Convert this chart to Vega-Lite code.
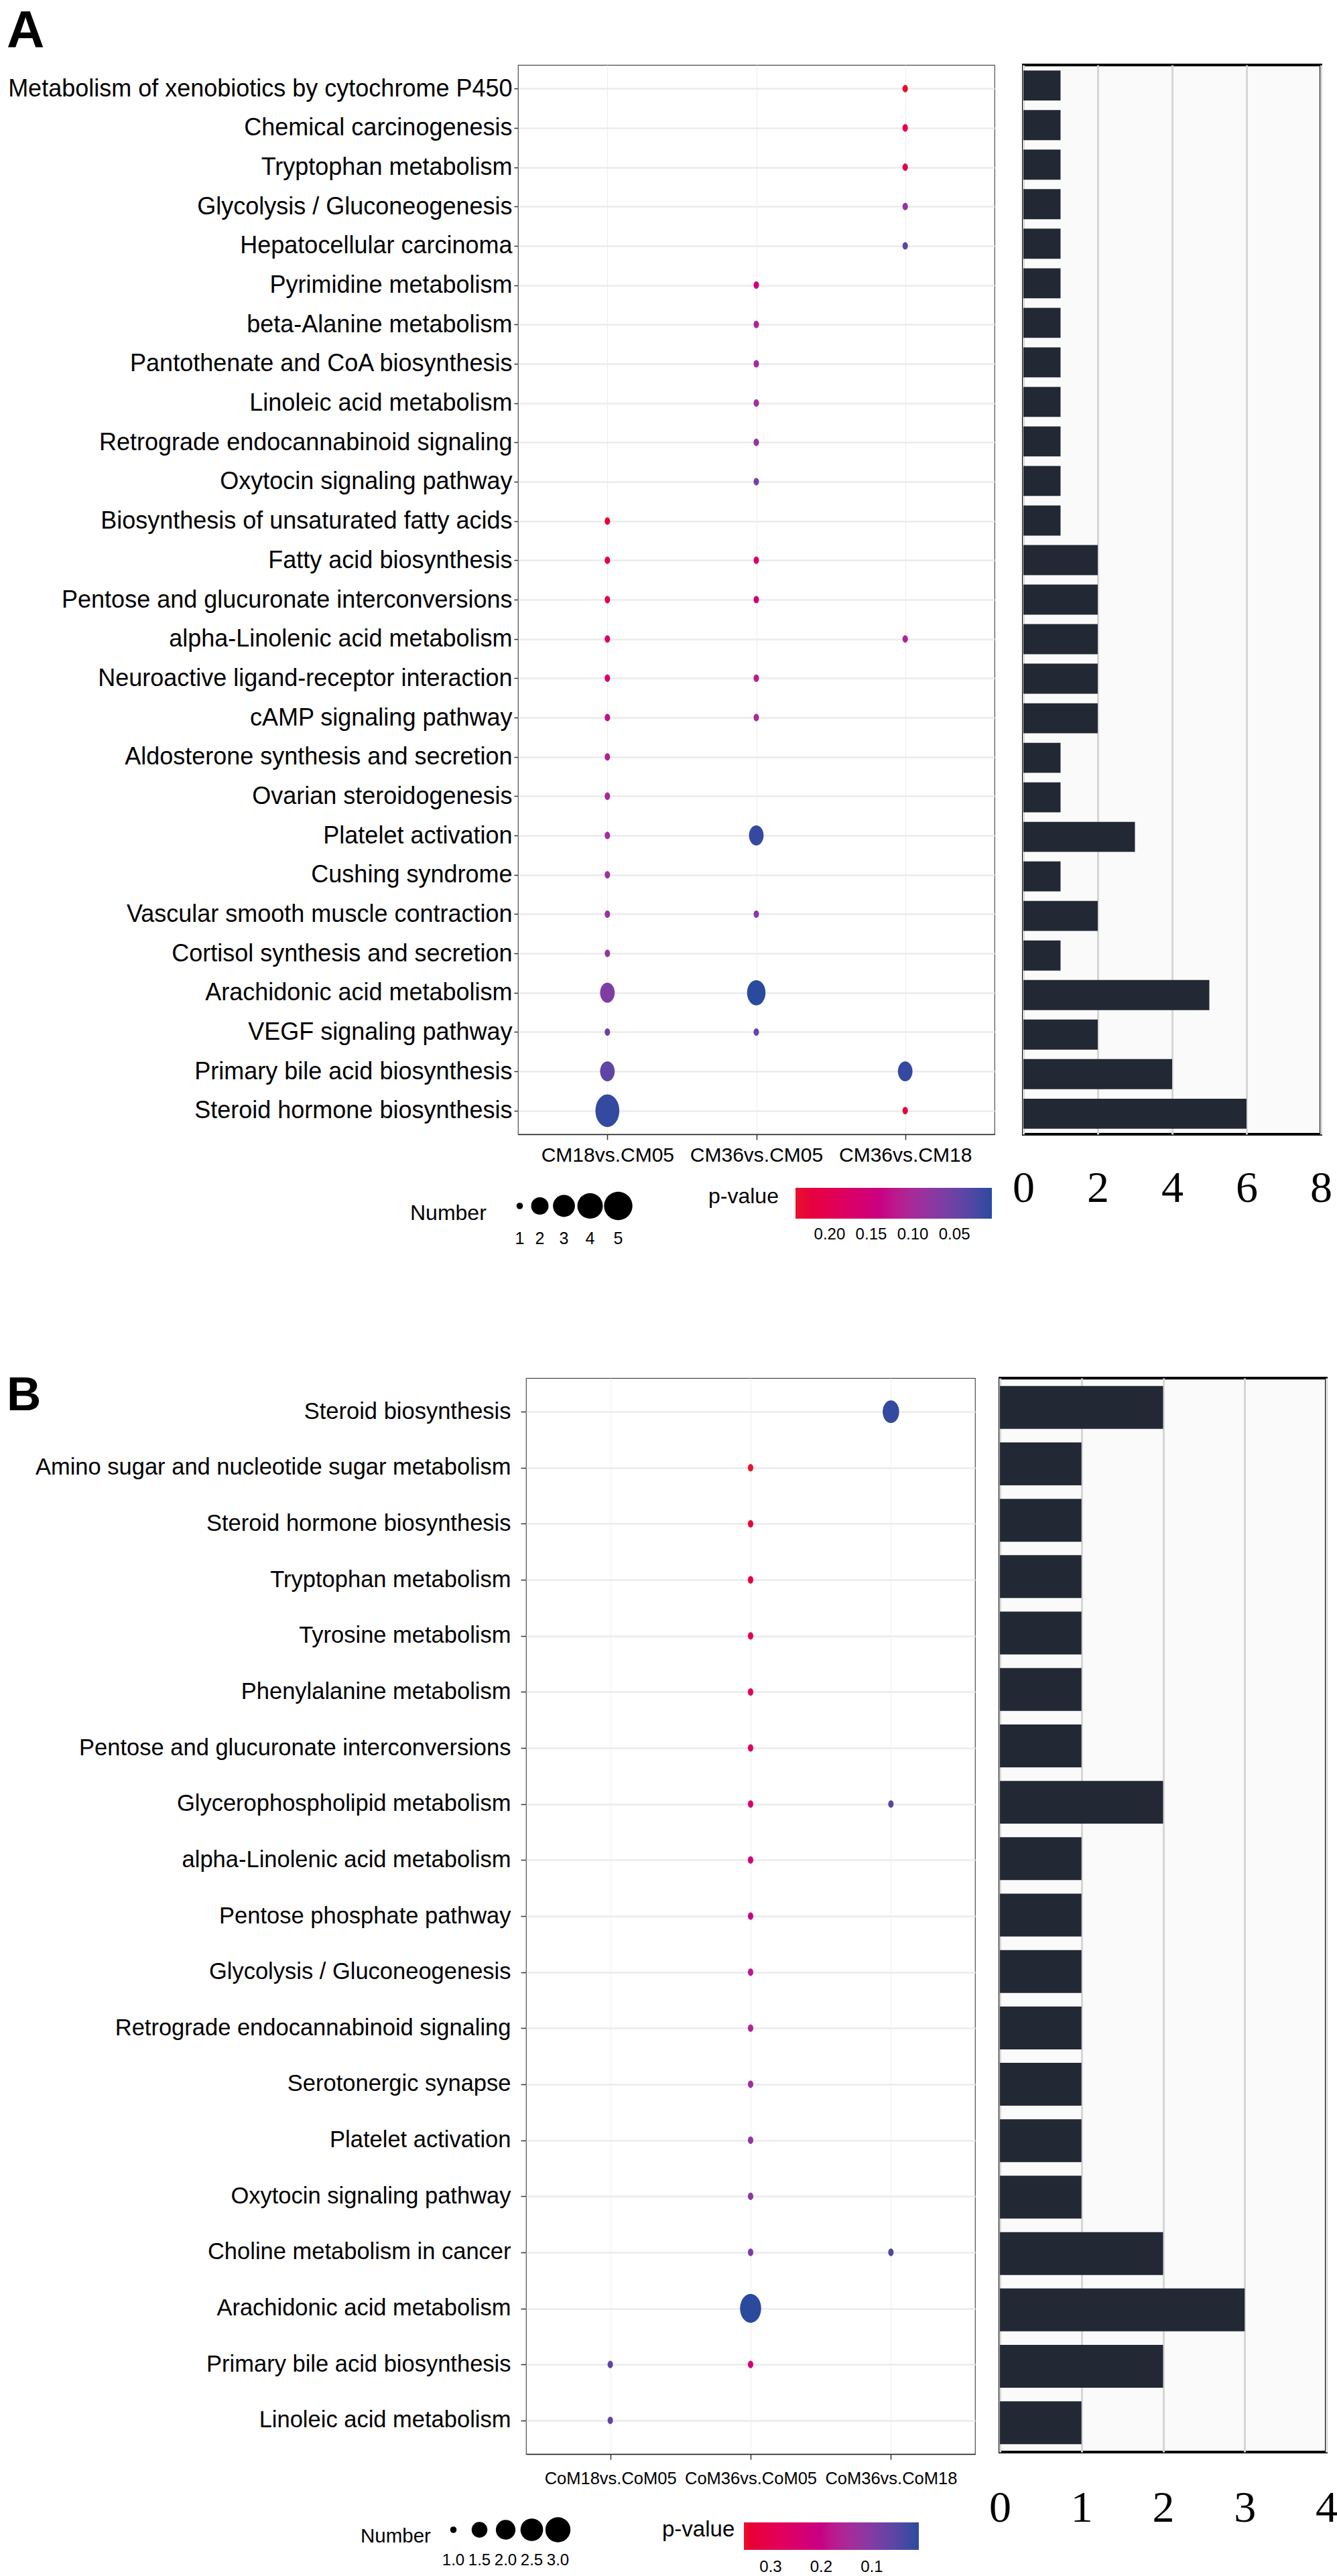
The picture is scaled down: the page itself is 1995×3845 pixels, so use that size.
{
  "$schema": "https://vega.github.io/schema/vega-lite/v6.json",
  "background": "white",
  "padding": {"left": 0, "top": 9, "right": 0, "bottom": 0},
  "config": {
    "view": {"stroke": null},
    "font": "Liberation Sans",
    "axis": {"labelColor": "black", "titleColor": "black"},
    "legend": {"padding": 0, "labelColor": "black", "titleColor": "black"},
    "title": {"color": "black"}
  },
  "datasets": {
    "dotsA": [
      {"pathway": "Metabolism of xenobiotics by cytochrome P450", "comparison": "CM36vs.CM18", "number": 1, "pvalue": 0.238},
      {"pathway": "Chemical carcinogenesis", "comparison": "CM36vs.CM18", "number": 1, "pvalue": 0.215},
      {"pathway": "Tryptophan metabolism", "comparison": "CM36vs.CM18", "number": 1, "pvalue": 0.195},
      {"pathway": "Glycolysis / Gluconeogenesis", "comparison": "CM36vs.CM18", "number": 1, "pvalue": 0.085},
      {"pathway": "Hepatocellular carcinoma", "comparison": "CM36vs.CM18", "number": 1, "pvalue": 0.04},
      {"pathway": "alpha-Linolenic acid metabolism", "comparison": "CM36vs.CM18", "number": 1, "pvalue": 0.11},
      {"pathway": "Primary bile acid biosynthesis", "comparison": "CM36vs.CM18", "number": 2, "pvalue": 0.012},
      {"pathway": "Steroid hormone biosynthesis", "comparison": "CM36vs.CM18", "number": 1, "pvalue": 0.225},
      {"pathway": "Pyrimidine metabolism", "comparison": "CM36vs.CM05", "number": 1, "pvalue": 0.15},
      {"pathway": "beta-Alanine metabolism", "comparison": "CM36vs.CM05", "number": 1, "pvalue": 0.11},
      {"pathway": "Pantothenate and CoA biosynthesis", "comparison": "CM36vs.CM05", "number": 1, "pvalue": 0.1},
      {"pathway": "Linoleic acid metabolism", "comparison": "CM36vs.CM05", "number": 1, "pvalue": 0.095},
      {"pathway": "Retrograde endocannabinoid signaling", "comparison": "CM36vs.CM05", "number": 1, "pvalue": 0.085},
      {"pathway": "Oxytocin signaling pathway", "comparison": "CM36vs.CM05", "number": 1, "pvalue": 0.06},
      {"pathway": "Fatty acid biosynthesis", "comparison": "CM36vs.CM05", "number": 1, "pvalue": 0.155},
      {"pathway": "Pentose and glucuronate interconversions", "comparison": "CM36vs.CM05", "number": 1, "pvalue": 0.15},
      {"pathway": "Neuroactive ligand-receptor interaction", "comparison": "CM36vs.CM05", "number": 1, "pvalue": 0.12},
      {"pathway": "cAMP signaling pathway", "comparison": "CM36vs.CM05", "number": 1, "pvalue": 0.1},
      {"pathway": "Platelet activation", "comparison": "CM36vs.CM05", "number": 2, "pvalue": 0.012},
      {"pathway": "Vascular smooth muscle contraction", "comparison": "CM36vs.CM05", "number": 1, "pvalue": 0.07},
      {"pathway": "Arachidonic acid metabolism", "comparison": "CM36vs.CM05", "number": 3, "pvalue": 0.005},
      {"pathway": "VEGF signaling pathway", "comparison": "CM36vs.CM05", "number": 1, "pvalue": 0.05},
      {"pathway": "Biosynthesis of unsaturated fatty acids", "comparison": "CM18vs.CM05", "number": 1, "pvalue": 0.235},
      {"pathway": "Fatty acid biosynthesis", "comparison": "CM18vs.CM05", "number": 1, "pvalue": 0.22},
      {"pathway": "Pentose and glucuronate interconversions", "comparison": "CM18vs.CM05", "number": 1, "pvalue": 0.205},
      {"pathway": "alpha-Linolenic acid metabolism", "comparison": "CM18vs.CM05", "number": 1, "pvalue": 0.178},
      {"pathway": "Neuroactive ligand-receptor interaction", "comparison": "CM18vs.CM05", "number": 1, "pvalue": 0.165},
      {"pathway": "cAMP signaling pathway", "comparison": "CM18vs.CM05", "number": 1, "pvalue": 0.128},
      {"pathway": "Aldosterone synthesis and secretion", "comparison": "CM18vs.CM05", "number": 1, "pvalue": 0.115},
      {"pathway": "Ovarian steroidogenesis", "comparison": "CM18vs.CM05", "number": 1, "pvalue": 0.105},
      {"pathway": "Platelet activation", "comparison": "CM18vs.CM05", "number": 1, "pvalue": 0.095},
      {"pathway": "Cushing syndrome", "comparison": "CM18vs.CM05", "number": 1, "pvalue": 0.09},
      {"pathway": "Vascular smooth muscle contraction", "comparison": "CM18vs.CM05", "number": 1, "pvalue": 0.085},
      {"pathway": "Cortisol synthesis and secretion", "comparison": "CM18vs.CM05", "number": 1, "pvalue": 0.08},
      {"pathway": "Arachidonic acid metabolism", "comparison": "CM18vs.CM05", "number": 2, "pvalue": 0.065},
      {"pathway": "VEGF signaling pathway", "comparison": "CM18vs.CM05", "number": 1, "pvalue": 0.05},
      {"pathway": "Primary bile acid biosynthesis", "comparison": "CM18vs.CM05", "number": 2, "pvalue": 0.04},
      {"pathway": "Steroid hormone biosynthesis", "comparison": "CM18vs.CM05", "number": 5, "pvalue": 0.01}
    ],
    "dotsB": [
      {"pathway": "Steroid biosynthesis", "comparison": "CoM36vs.CoM18", "number": 2, "pvalue": 0.015},
      {"pathway": "Glycerophospholipid metabolism", "comparison": "CoM36vs.CoM18", "number": 1, "pvalue": 0.05},
      {"pathway": "Choline metabolism in cancer", "comparison": "CoM36vs.CoM18", "number": 1, "pvalue": 0.04},
      {"pathway": "Amino sugar and nucleotide sugar metabolism", "comparison": "CoM36vs.CoM05", "number": 1, "pvalue": 0.353},
      {"pathway": "Steroid hormone biosynthesis", "comparison": "CoM36vs.CoM05", "number": 1, "pvalue": 0.345},
      {"pathway": "Tryptophan metabolism", "comparison": "CoM36vs.CoM05", "number": 1, "pvalue": 0.325},
      {"pathway": "Tyrosine metabolism", "comparison": "CoM36vs.CoM05", "number": 1, "pvalue": 0.31},
      {"pathway": "Phenylalanine metabolism", "comparison": "CoM36vs.CoM05", "number": 1, "pvalue": 0.28},
      {"pathway": "Pentose and glucuronate interconversions", "comparison": "CoM36vs.CoM05", "number": 1, "pvalue": 0.265},
      {"pathway": "Glycerophospholipid metabolism", "comparison": "CoM36vs.CoM05", "number": 1, "pvalue": 0.245},
      {"pathway": "alpha-Linolenic acid metabolism", "comparison": "CoM36vs.CoM05", "number": 1, "pvalue": 0.225},
      {"pathway": "Pentose phosphate pathway", "comparison": "CoM36vs.CoM05", "number": 1, "pvalue": 0.2},
      {"pathway": "Glycolysis / Gluconeogenesis", "comparison": "CoM36vs.CoM05", "number": 1, "pvalue": 0.18},
      {"pathway": "Retrograde endocannabinoid signaling", "comparison": "CoM36vs.CoM05", "number": 1, "pvalue": 0.16},
      {"pathway": "Serotonergic synapse", "comparison": "CoM36vs.CoM05", "number": 1, "pvalue": 0.14},
      {"pathway": "Platelet activation", "comparison": "CoM36vs.CoM05", "number": 1, "pvalue": 0.12},
      {"pathway": "Oxytocin signaling pathway", "comparison": "CoM36vs.CoM05", "number": 1, "pvalue": 0.105},
      {"pathway": "Choline metabolism in cancer", "comparison": "CoM36vs.CoM05", "number": 1, "pvalue": 0.09},
      {"pathway": "Arachidonic acid metabolism", "comparison": "CoM36vs.CoM05", "number": 3, "pvalue": 0.007},
      {"pathway": "Primary bile acid biosynthesis", "comparison": "CoM36vs.CoM05", "number": 1, "pvalue": 0.23},
      {"pathway": "Primary bile acid biosynthesis", "comparison": "CoM18vs.CoM05", "number": 1, "pvalue": 0.055},
      {"pathway": "Linoleic acid metabolism", "comparison": "CoM18vs.CoM05", "number": 1, "pvalue": 0.06}
    ]
  },
  "resolve": {
    "scale": {"x": "independent", "y": "independent", "color": "independent", "size": "independent"},
    "legend": {"color": "independent", "size": "independent"}
  },
  "spacing": 185,
  "vconcat": [
    {
      "title": {"text": "A", "anchor": "start", "frame": "bounds", "fontSize": 78, "fontWeight": "bold", "font": "Liberation Sans", "dx": 10, "offset": 8},
      "spacing": 23,
      "resolve": {
        "scale": {"x": "independent", "y": "independent", "color": "independent", "size": "independent"},
        "legend": {"color": "independent", "size": "independent"}
      },
      "hconcat": [
        {
          "spacing": 0,
          "resolve": {
            "scale": {"x": "independent", "y": "independent", "color": "independent", "size": "independent"},
            "legend": {"color": "independent", "size": "independent"}
          },
          "hconcat": [
            {"width": 1, "height": 1, "data": {"values": []}, "mark": "point"},
            {
              "width": 711,
              "height": 1596,
              "data": {"name": "dotsA"},
              "view": {"stroke": "#4d4d4d", "strokeWidth": 1.2, "fill": "white"},
              "mark": {"type": "point", "filled": true, "opacity": 1, "strokeWidth": 0, "shape": "M -0.84 0 A 0.84 1.15 0 1 0 0.84 0 A 0.84 1.15 0 1 0 -0.84 0 Z"},
              "encoding": {
                "x": {
                  "field": "comparison", "type": "nominal",
                  "scale": {"type": "point", "domain": ["CM18vs.CM05", "CM36vs.CM05", "CM36vs.CM18"], "padding": 0.6},
                  "axis": {"title": null, "labelAngle": 0, "labelFontSize": 30, "labelPadding": 8, "tickSize": 8, "tickColor": "#333333", "tickWidth": 1.5, "domainColor": "#222222", "domainWidth": 1.5, "grid": true, "gridColor": "#EEEEEE", "gridWidth": 1.2, "labelOverlap": false, "labelFlush": false, "labelLimit": 400}
                },
                "y": {
                  "field": "pathway", "type": "nominal",
                  "scale": {"type": "point", "padding": 0.6, "domain": ["Metabolism of xenobiotics by cytochrome P450", "Chemical carcinogenesis", "Tryptophan metabolism", "Glycolysis / Gluconeogenesis", "Hepatocellular carcinoma", "Pyrimidine metabolism", "beta-Alanine metabolism", "Pantothenate and CoA biosynthesis", "Linoleic acid metabolism", "Retrograde endocannabinoid signaling", "Oxytocin signaling pathway", "Biosynthesis of unsaturated fatty acids", "Fatty acid biosynthesis", "Pentose and glucuronate interconversions", "alpha-Linolenic acid metabolism", "Neuroactive ligand-receptor interaction", "cAMP signaling pathway", "Aldosterone synthesis and secretion", "Ovarian steroidogenesis", "Platelet activation", "Cushing syndrome", "Vascular smooth muscle contraction", "Cortisol synthesis and secretion", "Arachidonic acid metabolism", "VEGF signaling pathway", "Primary bile acid biosynthesis", "Steroid hormone biosynthesis"]},
                  "axis": {"title": null, "labelFontSize": 36, "labelLimit": 1000, "labelPadding": 3, "tickSize": 6, "tickColor": "#333333", "tickWidth": 1.5, "domain": false, "grid": true, "gridColor": "#EBEBEB", "gridWidth": 2.5, "labelOverlap": false, "minExtent": 771, "maxExtent": 771}
                },
                "size": {
                  "field": "number", "type": "quantitative",
                  "scale": {"domain": [1, 2, 3, 4, 5], "range": [92, 676, 1076, 1444, 1800]},
                  "legend": {
                    "title": "Number", "orient": "none", "legendX": -161, "legendY": 1683, "direction": "horizontal",
                    "titleOrient": "left", "titleFontSize": 32, "titleFontWeight": "normal", "titleAnchor": "middle", "titleBaseline": "alphabetic", "titlePadding": 27,
                    "values": [1, 2, 3, 4, 5], "symbolType": "circle", "symbolFillColor": "black", "symbolStrokeWidth": 0, "symbolOpacity": 1,
                    "labelFontSize": 25, "columnPadding": 0, "labelOffset": 0, "symbolOffset": 0,
                    "encoding": {
                      "entries": {"width": {"value": 45}, "height": {"value": 82}, "fill": {"value": "rgba(255,255,255,0)"}},
                      "symbols": {"x": {"value": 22.5}, "y": {"value": 20}},
                      "labels": {"x": {"value": 22.5}, "y": {"value": 69}, "align": {"value": "center"}, "baseline": {"value": "middle"}}
                    }
                  }
                },
                "color": {
                  "field": "pvalue", "type": "quantitative",
                  "scale": {"domain": [0.241, 0.123, 0.005], "range": ["#E8132B", "#BD178C", "#2A4A9E"]},
                  "legend": {
                    "title": "p-value", "orient": "none", "legendX": 284, "legendY": 1676, "direction": "horizontal",
                    "titleOrient": "left", "titleFontSize": 32, "titleFontWeight": "normal", "titleAnchor": "middle", "titleBaseline": "alphabetic", "titlePadding": 25,
                    "gradientLength": 293, "gradientThickness": 46, "gradientStrokeWidth": 0,
                    "values": [0.2, 0.15, 0.1, 0.05], "format": ".2f", "labelFontSize": 24, "labelOffset": 12, "labelOverlap": false
                  }
                }
              }
            }
          ]
        },
        {
          "width": 444,
          "height": 1596,
          "data": {"name": "dotsA"},
          "view": {"stroke": "black", "strokeWidth": 4, "fill": "#FAFAFA"},
          "mark": {"type": "bar", "color": "#222834"},
          "encoding": {
            "y": {
              "field": "pathway", "type": "nominal",
              "scale": {"type": "band", "paddingInner": 0.24, "paddingOuter": 0.14, "domain": ["Metabolism of xenobiotics by cytochrome P450", "Chemical carcinogenesis", "Tryptophan metabolism", "Glycolysis / Gluconeogenesis", "Hepatocellular carcinoma", "Pyrimidine metabolism", "beta-Alanine metabolism", "Pantothenate and CoA biosynthesis", "Linoleic acid metabolism", "Retrograde endocannabinoid signaling", "Oxytocin signaling pathway", "Biosynthesis of unsaturated fatty acids", "Fatty acid biosynthesis", "Pentose and glucuronate interconversions", "alpha-Linolenic acid metabolism", "Neuroactive ligand-receptor interaction", "cAMP signaling pathway", "Aldosterone synthesis and secretion", "Ovarian steroidogenesis", "Platelet activation", "Cushing syndrome", "Vascular smooth muscle contraction", "Cortisol synthesis and secretion", "Arachidonic acid metabolism", "VEGF signaling pathway", "Primary bile acid biosynthesis", "Steroid hormone biosynthesis"]},
              "axis": null
            },
            "x": {
              "aggregate": "sum", "field": "number", "type": "quantitative",
              "scale": {"domain": [0, 8], "nice": false},
              "axis": {"title": null, "values": [0, 2, 4, 6, 8], "grid": true, "gridColor": "#D6D6D6", "gridWidth": 3, "domain": false, "ticks": false, "tickSize": 0, "labelFont": "Liberation Serif", "labelFontSize": 66, "labelPadding": 48, "labelFlush": false, "labelOverlap": false}
            }
          }
        }
      ]
    },
    {
      "title": {"text": "B", "anchor": "start", "frame": "bounds", "fontSize": 71, "fontWeight": "bold", "font": "Liberation Sans", "dx": 10, "offset": -65},
      "spacing": 17,
      "resolve": {
        "scale": {"x": "independent", "y": "independent", "color": "independent", "size": "independent"},
        "legend": {"color": "independent", "size": "independent"}
      },
      "hconcat": [
        {
          "spacing": 0,
          "resolve": {
            "scale": {"x": "independent", "y": "independent", "color": "independent", "size": "independent"},
            "legend": {"color": "independent", "size": "independent"}
          },
          "hconcat": [
            {"width": 1, "height": 1, "data": {"values": []}, "mark": "point"},
            {
              "width": 670,
              "height": 1606,
              "data": {"name": "dotsB"},
              "view": {"stroke": "#4d4d4d", "strokeWidth": 1.2, "fill": "white"},
              "mark": {"type": "point", "filled": true, "opacity": 1, "strokeWidth": 0, "shape": "M -0.84 0 A 0.84 1.15 0 1 0 0.84 0 A 0.84 1.15 0 1 0 -0.84 0 Z"},
              "encoding": {
                "x": {
                  "field": "comparison", "type": "nominal",
                  "scale": {"type": "point", "domain": ["CoM18vs.CoM05", "CoM36vs.CoM05", "CoM36vs.CoM18"], "padding": 0.6},
                  "axis": {"title": null, "labelAngle": 0, "labelFontSize": 25.5, "labelPadding": 16, "tickSize": 8, "tickColor": "#333333", "tickWidth": 1.5, "domainColor": "#222222", "domainWidth": 1.5, "grid": true, "gridColor": "#EEEEEE", "gridWidth": 1.2, "labelOverlap": false, "labelFlush": false, "labelLimit": 400}
                },
                "y": {
                  "field": "pathway", "type": "nominal",
                  "scale": {"type": "point", "padding": 0.6, "domain": ["Steroid biosynthesis", "Amino sugar and nucleotide sugar metabolism", "Steroid hormone biosynthesis", "Tryptophan metabolism", "Tyrosine metabolism", "Phenylalanine metabolism", "Pentose and glucuronate interconversions", "Glycerophospholipid metabolism", "alpha-Linolenic acid metabolism", "Pentose phosphate pathway", "Glycolysis / Gluconeogenesis", "Retrograde endocannabinoid signaling", "Serotonergic synapse", "Platelet activation", "Oxytocin signaling pathway", "Choline metabolism in cancer", "Arachidonic acid metabolism", "Primary bile acid biosynthesis", "Linoleic acid metabolism"]},
                  "axis": {"title": null, "labelFontSize": 34.5, "labelLimit": 1000, "labelPadding": 15, "tickSize": 8, "tickColor": "#333333", "tickWidth": 1.5, "domain": false, "grid": true, "gridColor": "#EBEBEB", "gridWidth": 2.5, "labelOverlap": false, "minExtent": 783, "maxExtent": 783}
                },
                "size": {
                  "field": "number", "type": "quantitative",
                  "scale": {"domain": [1, 1.5, 2, 2.5, 3], "range": [92, 552, 858, 1136, 1399]},
                  "legend": {
                    "title": "Number", "orient": "none", "legendX": -247, "legendY": 1699, "direction": "horizontal",
                    "titleOrient": "left", "titleFontSize": 29.5, "titleFontWeight": "normal", "titleAnchor": "middle", "titleBaseline": "alphabetic", "titlePadding": 12,
                    "values": [1, 1.5, 2, 2.5, 3], "format": ".1f", "symbolType": "circle", "symbolFillColor": "black", "symbolStrokeWidth": 0, "symbolOpacity": 1,
                    "labelFontSize": 24, "columnPadding": 0, "labelOffset": 0, "symbolOffset": 0,
                    "encoding": {
                      "entries": {"width": {"value": 43}, "height": {"value": 80}, "fill": {"value": "rgba(255,255,255,0)"}},
                      "symbols": {"x": {"value": 21.5}, "y": {"value": 20}},
                      "labels": {"x": {"value": 21.5}, "y": {"value": 66}, "align": {"value": "center"}, "baseline": {"value": "middle"}}
                    }
                  }
                },
                "color": {
                  "field": "pvalue", "type": "quantitative",
                  "scale": {"domain": [0.353, 0.18, 0.007], "range": ["#E8132B", "#BD178C", "#2A4A9E"]},
                  "legend": {
                    "title": "p-value", "orient": "none", "legendX": 203, "legendY": 1708, "direction": "horizontal",
                    "titleOrient": "left", "titleFontSize": 33, "titleFontWeight": "normal", "titleAnchor": "middle", "titleBaseline": "alphabetic", "titlePadding": 13,
                    "gradientLength": 261, "gradientThickness": 41, "gradientStrokeWidth": 0,
                    "values": [0.3, 0.2, 0.1], "format": ".1f", "labelFontSize": 24, "labelOffset": 14, "labelOverlap": false
                  }
                }
              }
            }
          ]
        },
        {
          "width": 487,
          "height": 1603,
          "data": {"name": "dotsB"},
          "view": {"stroke": "black", "strokeWidth": 4, "fill": "#FAFAFA"},
          "mark": {"type": "bar", "color": "#222834"},
          "encoding": {
            "y": {
              "field": "pathway", "type": "nominal",
              "scale": {"type": "band", "paddingInner": 0.24, "paddingOuter": 0.14, "domain": ["Steroid biosynthesis", "Amino sugar and nucleotide sugar metabolism", "Steroid hormone biosynthesis", "Tryptophan metabolism", "Tyrosine metabolism", "Phenylalanine metabolism", "Pentose and glucuronate interconversions", "Glycerophospholipid metabolism", "alpha-Linolenic acid metabolism", "Pentose phosphate pathway", "Glycolysis / Gluconeogenesis", "Retrograde endocannabinoid signaling", "Serotonergic synapse", "Platelet activation", "Oxytocin signaling pathway", "Choline metabolism in cancer", "Arachidonic acid metabolism", "Primary bile acid biosynthesis", "Linoleic acid metabolism"]},
              "axis": null
            },
            "x": {
              "aggregate": "sum", "field": "number", "type": "quantitative",
              "scale": {"domain": [0, 4], "nice": false},
              "axis": {"title": null, "values": [0, 1, 2, 3, 4], "grid": true, "gridColor": "#D6D6D6", "gridWidth": 3, "domain": false, "ticks": false, "tickSize": 0, "labelFont": "Liberation Serif", "labelFontSize": 66, "labelPadding": 51, "labelFlush": false, "labelOverlap": false}
            }
          }
        }
      ]
    }
  ]
}
